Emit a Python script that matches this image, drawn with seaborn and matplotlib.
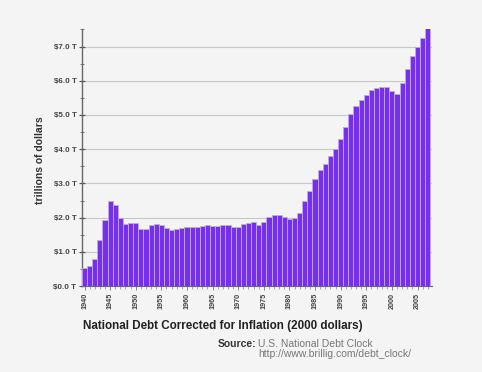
import numpy as np
import pandas as pd
import matplotlib
matplotlib.use("Agg")
import matplotlib.pyplot as plt
import seaborn as sns
from matplotlib.ticker import MultipleLocator, FixedLocator

# data (trillions of 2000 dollars)
years = list(range(1940, 2008))
debt = [
    0.53, 0.58, 0.80, 1.36, 1.94, 2.48, 2.38, 1.99, 1.80, 1.84,   # 1940s
    1.85, 1.68, 1.66, 1.79, 1.80, 1.78, 1.70, 1.65, 1.68, 1.70,   # 1950s
    1.72, 1.72, 1.74, 1.76, 1.77, 1.76, 1.76, 1.78, 1.77, 1.74,   # 1960s
    1.73, 1.80, 1.84, 1.86, 1.79, 1.88, 2.02, 2.09, 2.09, 2.02,   # 1970s
    1.96, 1.98, 2.14, 2.48, 2.77, 3.12, 3.38, 3.56, 3.80, 4.00,   # 1980s
    4.29, 4.64, 5.02, 5.25, 5.44, 5.59, 5.74, 5.80, 5.83, 5.83,   # 1990s
    5.69, 5.62, 5.93, 6.34, 6.72, 6.99, 7.25, 7.55,               # 2000s
]
ytick_vals = [0, 1, 2, 3, 4, 5, 6, 7]
ytick_labels = [f"${v:.1f} T" for v in ytick_vals]
xtick_years = list(range(1940, 2006, 5))

df = pd.DataFrame({"year": years, "debt": debt})

sns.set_style("white")
plt.rcParams["font.family"] = ["Liberation Sans", "DejaVu Sans"]

bg = "#f4f4f4"
fig = plt.figure(figsize=(4.82, 3.72), dpi=100, facecolor=bg)
ax = fig.add_axes([0.170, 0.231, 0.726, 0.690], facecolor=bg)

sns.barplot(data=df, x="year", y="debt", ax=ax, color="#7630ec",
            saturation=1, width=1.0, edgecolor="#c4a6f4", linewidth=0.6, zorder=3)

ax.set_ylim(0, 7.5)
ax.set_xlim(-0.5, len(years) - 0.2)

# gridlines at whole trillions
ax.yaxis.set_major_locator(FixedLocator(ytick_vals))
ax.yaxis.set_minor_locator(MultipleLocator(0.5))
ax.set_yticklabels(ytick_labels)
ax.grid(axis="y", color="#c8c8c8", linewidth=0.8, zorder=0)

pos = [years.index(y) for y in xtick_years]
ax.xaxis.set_major_locator(FixedLocator(pos))
ax.xaxis.set_minor_locator(FixedLocator(range(len(years))))
ax.set_xticklabels([str(y) for y in xtick_years], rotation=90)

for s in ["top", "right"]:
    ax.spines[s].set_visible(False)
ax.spines["left"].set_color("#666666")
ax.spines["bottom"].set_color("#666666")
ax.spines["left"].set_linewidth(1.0)

ax.tick_params(axis="y", which="major", direction="inout", length=5, width=0.9,
               color="#555555", labelsize=5.8, labelcolor="#444444", pad=1.5, left=True)
ax.tick_params(axis="y", which="minor", direction="inout", length=3, width=0.7,
               color="#777777", left=True)
ax.tick_params(axis="x", which="major", direction="out", length=3, width=0.6,
               color="#777777", labelsize=5.2, labelcolor="#444444", pad=2, bottom=True)
ax.tick_params(axis="x", which="minor", direction="out", length=2, width=0.5,
               color="#888888", bottom=True)
for t in ax.get_xticklabels() + ax.get_yticklabels():
    t.set_fontweight("bold")

ax.set_xlabel("")
ax.set_ylabel("")
fig.text(0.083, 0.57, "trillions of dollars", rotation=90, ha="center", va="center",
         fontsize=7.5, fontweight="bold", color="#333333")

fig.text(0.172, 0.125, "National Debt Corrected for Inflation (2000 dollars)",
         ha="left", va="center", fontsize=8.4, fontweight="bold", color="#222222")
fig.text(0.531, 0.075, "Source:", ha="right", va="center", fontsize=7.5,
         fontweight="bold", color="#333333")
fig.text(0.535, 0.075, "U.S. National Debt Clock", ha="left", va="center",
         fontsize=7.5, color="#777777")
fig.text(0.535, 0.049, "http://www.brillig.com/debt_clock/", ha="left", va="center",
         fontsize=7.5, color="#777777")

fig.savefig("out.png", dpi=100, facecolor=bg)
